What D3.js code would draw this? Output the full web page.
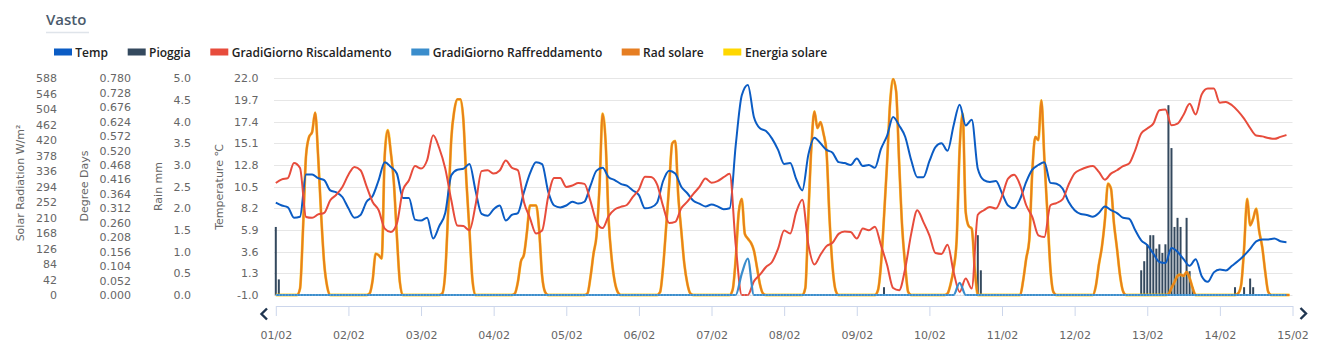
<!DOCTYPE html>
<html><head><meta charset="utf-8">
<script src="https://cdn.jsdelivr.net/npm/d3@7"></script>
<style>body{margin:0;background:#fff}svg{display:block}</style>
</head><body><svg id="c" width="1335" height="345"></svg>
<script>
// ---------- DATA ----------
const chartTitle = "Vasto";
const dayLabels = ["01/02","02/02","03/02","04/02","05/02","06/02","07/02","08/02","09/02","10/02","11/02","12/02","13/02","14/02","15/02"];
const legendNames = ["Temp","Pioggia","GradiGiorno Riscaldamento","GradiGiorno Raffreddamento","Rad solare","Energia solare"];
const legendColors = ["#0b5cc4","#34495e","#e74c3c","#3a8dcc","#e67e22","#ffd700"];

// Temperature (°C), every 2 hours from 01/02 00:00
const tempC = [
 8.8,8.5,8.3,7.2,7.3,11.8,11.8,11.4,11.2,10.1,9.9,9.4,
 8.2,7.2,7.5,8.9,9.5,11.2,13.1,12.6,11.9,9.3,9.3,7.0,
 6.9,7.2,5.0,6.3,7.7,11.7,12.3,12.4,12.9,10.1,7.6,7.4,
 8.1,8.5,6.9,7.5,7.7,9.9,11.9,13.1,12.9,10.0,8.5,8.3,
 8.5,8.9,8.7,8.9,10.6,12.2,12.5,11.5,11.2,10.8,10.6,10.1,
 9.6,8.2,8.3,8.8,11.1,12.2,11.9,10.5,9.8,9.0,8.7,8.4,
 8.6,8.4,8.1,8.2,14.9,20.2,21.3,17.9,16.7,16.4,15.6,14.4,
 12.9,13.0,11.3,10.1,13.9,15.7,15.1,14.4,14.1,13.1,13.0,12.8,
 13.5,12.7,12.8,12.5,14.5,15.9,17.9,17.0,15.8,13.3,11.5,11.5,
 13.2,14.7,15.1,14.3,17.0,19.2,17.0,17.6,12.4,11.2,11.0,11.1,
 9.8,8.5,8.2,9.2,11.0,12.3,12.8,13.1,10.9,10.8,10.3,8.9,
 8.0,7.6,7.5,7.3,7.7,8.4,8.0,7.7,7.2,7.1,5.9,4.8,
 4.3,3.4,2.5,2.4,4.0,3.6,2.8,2.1,2.8,1.0,0.4,1.4,
 1.7,1.6,2.1,2.6,3.2,3.9,4.7,4.9,4.9,5.0,4.7,4.6
];

// Heating degree days, every 2 hours
const heatingDD = [
 0.403,0.416,0.421,0.475,0.457,0.281,0.278,0.290,0.296,0.341,0.361,0.389,
 0.433,0.461,0.449,0.391,0.335,0.305,0.239,0.227,0.257,0.377,0.413,0.464,
 0.455,0.485,0.575,0.529,0.455,0.341,0.250,0.248,0.233,0.323,0.446,0.449,
 0.437,0.448,0.484,0.458,0.449,0.335,0.277,0.221,0.232,0.353,0.421,0.421,
 0.389,0.394,0.403,0.400,0.338,0.263,0.241,0.284,0.308,0.317,0.324,0.353,
 0.380,0.426,0.425,0.398,0.320,0.259,0.263,0.312,0.336,0.364,0.389,0.419,
 0.404,0.410,0.424,0.436,0.179,0,0,0.049,0.073,0.101,0.119,0.167,
 0.232,0.221,0.299,0.343,0.181,0.110,0.145,0.176,0.188,0.220,0.229,0.227,
 0.203,0.239,0.233,0.246,0.179,0.109,0.025,0.017,0.095,0.221,0.305,0.263,
 0.215,0.151,0.148,0.181,0.083,0.011,0.059,0.023,0.289,0.305,0.317,0.311,
 0.356,0.419,0.433,0.395,0.323,0.281,0.215,0.209,0.323,0.331,0.344,0.397,
 0.438,0.451,0.460,0.464,0.443,0.415,0.437,0.449,0.464,0.473,0.521,0.581,
 0.599,0.617,0.665,0.668,0.611,0.617,0.649,0.688,0.650,0.722,0.743,0.743,
 0.692,0.695,0.683,0.662,0.635,0.601,0.574,0.571,0.565,0.562,0.569,0.576
];

// Cooling degree days, every 2 hours
const coolingDD = [
 0,0,0,0,0,0,0,0,0,0,0,0, 0,0,0,0,0,0,0,0,0,0,0,0,
 0,0,0,0,0,0,0,0,0,0,0,0, 0,0,0,0,0,0,0,0,0,0,0,0,
 0,0,0,0,0,0,0,0,0,0,0,0, 0,0,0,0,0,0,0,0,0,0,0,0,
 0,0,0,0,0,0.077,0.131,0,0,0,0,0, 0,0,0,0,0,0,0,0,0,0,0,0,
 0,0,0,0,0,0,0,0,0,0,0,0, 0,0,0,0,0,0.044,0,0,0,0,0,0,
 0,0,0,0,0,0,0,0,0,0,0,0, 0,0,0,0,0,0,0,0,0,0,0,0,
 0,0,0,0,0,0,0,0,0,0,0,0, 0,0,0,0,0,0,0,0,0,0,0,0
];

// Solar radiation W/m², hourly, one row per day
const solarRad = [
 0,0,0,0,0,0,0,0,17,180,379,429,442,495,375,216,85,22,0,0,0,0,0,0,
 0,0,0,0,0,0,0,4,40,112,108,99,379,447,388,307,162,35,0,0,0,0,0,0,
 0,0,0,0,0,0,0,4,62,234,424,501,531,531,474,307,175,40,0,0,0,0,0,0,
 0,0,0,0,0,0,0,4,35,91,109,171,243,243,243,180,53,8,0,0,0,0,0,0,
 0,0,0,0,0,0,0,4,49,112,162,298,492,415,203,99,37,8,0,0,0,0,0,0,
 0,0,0,0,0,0,0,8,76,185,298,411,418,270,175,85,31,4,0,0,0,0,0,0,
 0,0,0,0,0,0,0,15,99,225,261,166,153,142,121,76,29,4,0,0,0,0,0,0,
 0,0,0,0,0,0,0,19,216,402,498,453,469,438,388,207,76,13,0,0,0,0,0,0,
 0,0,0,0,0,0,0,13,82,212,356,519,586,553,361,185,81,8,0,0,0,0,0,0,
 0,0,0,0,0,0,4,29,71,148,397,492,225,187,180,71,0,0,0,0,0,0,0,0,
 0,0,0,0,0,0,0,40,99,148,334,429,420,528,370,221,71,8,0,0,0,0,0,0,
 0,0,0,0,0,0,0,24,82,130,203,302,289,194,126,53,10,0,0,0,0,0,0,0,
 0,0,0,0,0,0,0,2,19,35,52,55,52,62,46,19,0,0,0,0,0,0,0,0,
 0,0,0,0,0,0,4,26,126,261,189,207,234,173,130,62,8,0,0,0,0,0,0,0
];
// Energia solare follows the radiation curve (drawn beneath it)
const energiaSolare = solarRad.slice();

// Rain (mm): hour index since 01/02 00:00 and amount
const rainHour = [0,1,201,232,233,286,287,288,289,290,291,292,293,294,295,296,297,298,299,300,301,302,303,317,320,322,323];
const rainMm   = [1.57,0.36,0.18,1.38,0.57,0.57,0.78,1.17,1.38,1.38,1.07,1.17,0.97,1.17,4.38,3.39,1.57,1.78,1.57,0.45,1.78,0.55,0.18,0.18,0.18,0.38,0.18];

// Axis ticks
const solarTicks = [0,42,84,126,168,210,252,294,336,378,420,462,504,546,588];
const ddTicks = [0,0.052,0.104,0.156,0.208,0.26,0.312,0.364,0.416,0.468,0.52,0.572,0.624,0.676,0.728,0.78];
const rainTicks = [0,0.5,1,1.5,2,2.5,3,3.5,4,4.5,5];
const tempTicks = [-1,1.3,3.6,5.9,8.2,10.5,12.8,15.1,17.4,19.7,22];
const axisTitles = ["Solar Radiation W/m²","Degree Days","Rain mm","Temperature ℃"];

// ---------- DRAW ----------
const svg = d3.select("#c");
svg.append("rect").attr("width",1335).attr("height",345).attr("fill","#fff");

const plotL = 275.8, plotR = 1292.5, plotT = 78.3, plotB = 295;
const x = d3.scaleLinear().domain([0, 336]).range([plotL, plotR]);
const yT = d3.scaleLinear().domain([-1, 22]).range([plotB, plotT]);
const yD = d3.scaleLinear().domain([0, 0.78]).range([plotB, plotT]);
const yR = d3.scaleLinear().domain([0, 5]).range([plotB, plotT]);
const yS = d3.scaleLinear().domain([0, 588]).range([plotB, plotT]);

// Title
svg.append("text").attr("x",46).attr("y",25).text(chartTitle)
  .attr("font-family","Open Sans").attr("font-size",15).attr("font-weight",600).attr("fill","#4b5b6c");
svg.append("line").attr("x1",46).attr("x2",89).attr("y1",32.5).attr("y2",32.5)
  .attr("stroke","#dfe4ea").attr("stroke-width",1.5);

// Legend
const legX = [[54,75.3],[127.7,149],[210.3,231.7],[411.3,432.7],[621.7,643],[723.3,745]];
legendNames.forEach((n,i)=>{
  svg.append("rect").attr("x",legX[i][0]).attr("y",48.5).attr("width",18).attr("height",7).attr("fill",legendColors[i]);
  svg.append("text").attr("x",legX[i][1]).attr("y",56.5).text(n)
    .attr("font-family","Open Sans").attr("font-size",12).attr("font-weight",600).attr("fill","#222");
});

// Grid lines
svg.append("g").selectAll("line").data(tempTicks).join("line")
  .attr("x1",274).attr("x2",plotR).attr("y1",d=>Math.round(yT(d))+0.5).attr("y2",d=>Math.round(yT(d))+0.5)
  .attr("stroke","#e6e6e6").attr("stroke-width",1);

// Y axes
function yAxis(scale, ticks, fmt, xr){
  const g = svg.append("g").attr("transform",`translate(${xr},0)`)
    .call(d3.axisLeft(scale).tickValues(ticks).tickFormat(fmt).tickSize(0).tickPadding(0));
  g.select(".domain").remove();
  g.selectAll("text").attr("font-family","DejaVu Sans").attr("font-size",11).attr("fill","#666");
}
yAxis(yS, solarTicks, d3.format("d"), 57);
yAxis(yD, ddTicks, d3.format(".3f"), 131);
yAxis(yR, rainTicks, d3.format(".1f"), 191);
yAxis(yT, tempTicks, d=>d3.format(".1f")(d).replace("−","-"), 258.5);

const titlePos = [[24,183],[87.5,186],[161.5,186.5],[222.5,187]];
axisTitles.forEach((t,i)=>{
  svg.append("text").attr("transform",`translate(${titlePos[i][0]},${titlePos[i][1]}) rotate(-90)`)
    .attr("text-anchor","middle").text(t)
    .attr("font-family","DejaVu Sans").attr("font-size",11).attr("fill","#666");
});

// X axis
const xg = svg.append("g").attr("transform","translate(0,306)")
  .call(d3.axisBottom(x).tickValues(d3.range(0,337,24)).tickFormat(h=>dayLabels[h/24]).tickSize(10).tickSizeOuter(0).tickPadding(15));
xg.select(".domain").attr("stroke","#ccd6eb");
xg.selectAll(".tick line").attr("stroke","#ccd6eb");
xg.selectAll("text").attr("font-family","DejaVu Sans").attr("font-size",11).attr("fill","#666");

// nav arrows
svg.append("path").attr("d","M267,308.5 L261.5,314 L267,319.5").attr("fill","none").attr("stroke","#1f3550").attr("stroke-width",2.4);
svg.append("path").attr("d","M1300.5,308 L1306,313.5 L1300.5,319").attr("fill","none").attr("stroke","#1f3550").attr("stroke-width",2.4);

// Rain bars
svg.append("g").selectAll("rect").data(rainHour).join("rect")
  .attr("x",(h)=>x(h)-1).attr("width",2)
  .attr("y",(h,i)=>yR(rainMm[i])).attr("height",(h,i)=>plotB-yR(rainMm[i]))
  .attr("fill","#34495e");

// Lines
const lineH = (ys)=>d3.line().x((d,i)=>x(i)).y(d=>ys(d)).curve(d3.curveMonotoneX);
const line2H = (ys)=>d3.line().x((d,i)=>x(i*2)).y(d=>ys(d)).curve(d3.curveMonotoneX);

svg.append("path").datum(energiaSolare).attr("d",lineH(yS)).attr("fill","none").attr("stroke","#ffc400").attr("stroke-opacity",0.75).attr("stroke-width",2.8).attr("stroke-linejoin","round");
svg.append("path").datum(solarRad).attr("d",lineH(yS)).attr("fill","none").attr("stroke","#e8801c").attr("stroke-width",2.1).attr("stroke-linejoin","round");
svg.append("path").datum(tempC).attr("d",line2H(yT)).attr("fill","none").attr("stroke","#0b5cc4").attr("stroke-width",2).attr("stroke-linejoin","round");
svg.append("path").datum(heatingDD).attr("d",line2H(yD)).attr("fill","none").attr("stroke","#e74c3c").attr("stroke-width",2).attr("stroke-linejoin","round");
svg.append("path").datum(coolingDD).attr("d",line2H(yD)).attr("fill","none").attr("stroke","#3a8dcc").attr("stroke-width",2.2).attr("stroke-linejoin","round");
// dotted highlight along zero baseline
svg.append("line").attr("x1",x(0)).attr("x2",x(334)).attr("y1",yD(0)).attr("y2",yD(0))
  .attr("stroke","#a9cdee").attr("stroke-width",0.8).attr("stroke-dasharray","1 2");
</script></body></html>
